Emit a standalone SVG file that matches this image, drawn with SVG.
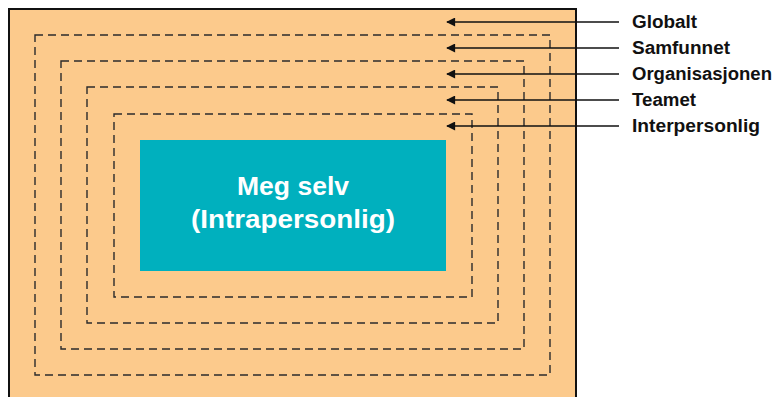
<svg xmlns="http://www.w3.org/2000/svg" width="776" height="397" viewBox="0 0 776 397">
  <style>
    .ring { fill: none; stroke: #2b2b2b; stroke-width: 1.4; stroke-dasharray: 8 5; }
    .lead { stroke: #111; stroke-width: 1.5; fill: none; }
    .label { font-family: "Liberation Sans", Arial, sans-serif; font-weight: bold; font-size: 18px; fill: #111; }
    .core { font-family: "Liberation Sans", Arial, sans-serif; font-weight: bold; font-size: 25px; fill: #fff; text-anchor: middle; }
  </style>
  <defs>
    <marker id="arrow" viewBox="0 0 10 10" refX="9" refY="5" markerWidth="10" markerHeight="9" markerUnits="userSpaceOnUse" orient="auto">
      <path d="M10,5 L0,0 L0,10 Z" fill="#111"/>
    </marker>
  </defs>

  <!-- outer field -->
  <g id="globalt">
    <rect x="9" y="9" width="567" height="400" fill="#fcca8c" stroke="#111" stroke-width="2"/>
  </g>

  <!-- nested dashed levels -->
  <g id="samfunnet"><rect class="ring" x="35" y="35" width="515" height="340"/></g>
  <g id="organisasjonen"><rect class="ring" x="61" y="61" width="463" height="288"/></g>
  <g id="teamet"><rect class="ring" x="87" y="87" width="411" height="236"/></g>
  <g id="interpersonlig"><rect class="ring" x="114" y="114" width="358" height="183"/></g>

  <!-- core box -->
  <g id="meg-selv">
    <rect x="140" y="140" width="306" height="131" fill="#00b0be"/>
    <text class="core" x="293" y="195" textLength="112" lengthAdjust="spacingAndGlyphs">Meg selv</text>
    <text class="core" x="293" y="228" textLength="204" lengthAdjust="spacingAndGlyphs">(Intrapersonlig)</text>
  </g>

  <!-- label leaders -->
  <g id="connectors">
    <line class="lead" x1="619" y1="22" x2="447" y2="22" marker-end="url(#arrow)"/>
    <line class="lead" x1="619" y1="48" x2="447" y2="48" marker-end="url(#arrow)"/>
    <line class="lead" x1="619" y1="74" x2="447" y2="74" marker-end="url(#arrow)"/>
    <line class="lead" x1="619" y1="100" x2="447" y2="100" marker-end="url(#arrow)"/>
    <line class="lead" x1="619" y1="126" x2="447" y2="126" marker-end="url(#arrow)"/>
  </g>

  <g id="labels">
    <text class="label" x="632" y="28" textLength="65" lengthAdjust="spacingAndGlyphs">Globalt</text>
    <text class="label" x="632" y="54" textLength="98" lengthAdjust="spacingAndGlyphs">Samfunnet</text>
    <text class="label" x="632" y="80" textLength="140" lengthAdjust="spacingAndGlyphs">Organisasjonen</text>
    <text class="label" x="632" y="106" textLength="64" lengthAdjust="spacingAndGlyphs">Teamet</text>
    <text class="label" x="632" y="132" textLength="128" lengthAdjust="spacingAndGlyphs">Interpersonlig</text>
  </g>
</svg>
